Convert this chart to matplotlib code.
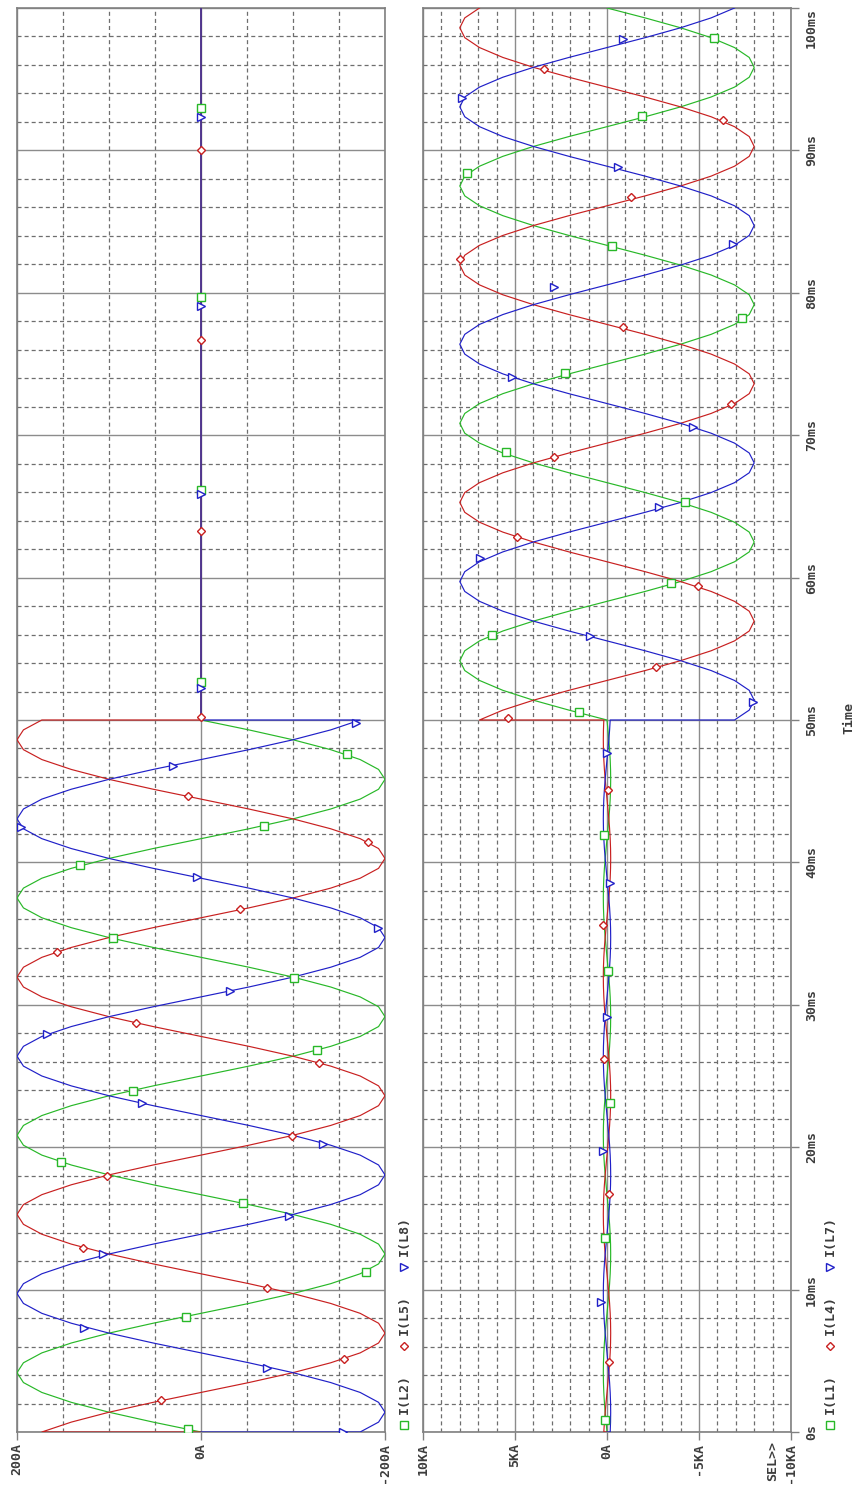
import numpy as np
import matplotlib.pyplot as plt
from matplotlib.lines import Line2D

plt.rcParams['lines.scale_dashes'] = False
plt.rcParams['font.family'] = 'DejaVu Sans Mono'

# sample grid: 15 degree steps of a 60 Hz cycle, 50 ms before and after the fault
t_pre = np.linspace(0, 50, 73)
t_post = np.linspace(50, 100, 73)

# upper plot, load currents in A (0 .. 50 ms)
i_l2_pre = [0, 52, 100, 141, 173, 193, 200, 193, 173, 141, 100, 52, 0, -52, -100, -141, -173, -193, -200, -193, -173, -141, -100, -52,
            0, 52, 100, 141, 173, 193, 200, 193, 173, 141, 100, 52, 0, -52, -100, -141, -173, -193, -200, -193, -173, -141, -100, -52,
            0, 52, 100, 141, 173, 193, 200, 193, 173, 141, 100, 52, 0, -52, -100, -141, -173, -193, -200, -193, -173, -141, -100, -52,
            0]
i_l5_pre = [173, 141, 100, 52, 0, -52, -100, -141, -173, -193, -200, -193, -173, -141, -100, -52, 0, 52, 100, 141, 173, 193, 200, 193,
            173, 141, 100, 52, 0, -52, -100, -141, -173, -193, -200, -193, -173, -141, -100, -52, 0, 52, 100, 141, 173, 193, 200, 193,
            173, 141, 100, 52, 0, -52, -100, -141, -173, -193, -200, -193, -173, -141, -100, -52, 0, 52, 100, 141, 173, 193, 200, 193,
            173]
i_l8_pre = [-173, -193, -200, -193, -173, -141, -100, -52, 0, 52, 100, 141, 173, 193, 200, 193, 173, 141, 100, 52, 0, -52, -100, -141,
            -173, -193, -200, -193, -173, -141, -100, -52, 0, 52, 100, 141, 173, 193, 200, 193, 173, 141, 100, 52, 0, -52, -100, -141,
            -173, -193, -200, -193, -173, -141, -100, -52, 0, 52, 100, 141, 173, 193, 200, 193, 173, 141, 100, 52, 0, -52, -100, -141,
            -173]

# lower plot, fault currents in kA (50 .. 100 ms)
i_l1_post = [0, 2.07, 4.0, 5.66, 6.93, 7.73, 8.0, 7.73, 6.93, 5.66, 4.0, 2.07, 0, -2.07, -4.0, -5.66, -6.93, -7.73, -8.0, -7.73, -6.93, -5.66, -4.0, -2.07,
             0, 2.07, 4.0, 5.66, 6.93, 7.73, 8.0, 7.73, 6.93, 5.66, 4.0, 2.07, 0, -2.07, -4.0, -5.66, -6.93, -7.73, -8.0, -7.73, -6.93, -5.66, -4.0, -2.07,
             0, 2.07, 4.0, 5.66, 6.93, 7.73, 8.0, 7.73, 6.93, 5.66, 4.0, 2.07, 0, -2.07, -4.0, -5.66, -6.93, -7.73, -8.0, -7.73, -6.93, -5.66, -4.0, -2.07,
             0]
i_l4_post = [6.93, 5.66, 4.0, 2.07, 0, -2.07, -4.0, -5.66, -6.93, -7.73, -8.0, -7.73, -6.93, -5.66, -4.0, -2.07, 0, 2.07, 4.0, 5.66, 6.93, 7.73, 8.0, 7.73,
             6.93, 5.66, 4.0, 2.07, 0, -2.07, -4.0, -5.66, -6.93, -7.73, -8.0, -7.73, -6.93, -5.66, -4.0, -2.07, 0, 2.07, 4.0, 5.66, 6.93, 7.73, 8.0, 7.73,
             6.93, 5.66, 4.0, 2.07, 0, -2.07, -4.0, -5.66, -6.93, -7.73, -8.0, -7.73, -6.93, -5.66, -4.0, -2.07, 0, 2.07, 4.0, 5.66, 6.93, 7.73, 8.0, 7.73,
             6.93]
i_l7_post = [-6.93, -7.73, -8.0, -7.73, -6.93, -5.66, -4.0, -2.07, 0, 2.07, 4.0, 5.66, 6.93, 7.73, 8.0, 7.73, 6.93, 5.66, 4.0, 2.07, 0, -2.07, -4.0, -5.66,
             -6.93, -7.73, -8.0, -7.73, -6.93, -5.66, -4.0, -2.07, 0, 2.07, 4.0, 5.66, 6.93, 7.73, 8.0, 7.73, 6.93, 5.66, 4.0, 2.07, 0, -2.07, -4.0, -5.66,
             -6.93, -7.73, -8.0, -7.73, -6.93, -5.66, -4.0, -2.07, 0, 2.07, 4.0, 5.66, 6.93, 7.73, 8.0, 7.73, 6.93, 5.66, 4.0, 2.07, 0, -2.07, -4.0, -5.66,
             -6.93]

# marker positions along each trace (ms, value)
mk_l2_t = [0.21, 8.08, 11.24, 16.08, 18.96, 23.95, 26.83, 31.88, 34.69, 39.82, 42.56, 47.61, 52.67, 66.15, 79.71, 92.98]
mk_l2_v = [14, 16, -179, -46, 152, 74, -126, -101, 96, 131, -68, -159, 0, 0, 0, 0]
mk_l5_t = [2.25, 5.13, 10.11, 12.92, 17.98, 20.79, 25.91, 28.72, 33.71, 36.73, 41.43, 44.66, 50.2, 63.27, 76.69, 90.03]
mk_l5_v = [43, -155, -72, 128, 102, -99, -128, 71, 156, -42, -181, 14, 0, 0, 0, 0]
mk_l8_t = [0.0, 4.49, 7.30, 12.5, 15.17, 20.22, 23.10, 27.95, 30.97, 35.39, 38.97, 42.49, 46.77, 49.79, 52.25, 65.87, 79.07, 92.35]
mk_l8_v = [-154, -72, 127, 106, -96, -133, 64, 167, -31, -192, 4, 196, 30, -168, 0, 0, 0, 0]

mk_l1_t = [0.84, 13.6, 23.1, 32.4, 41.9, 50.56, 56.0, 59.6, 65.3, 68.8, 74.37, 78.2, 83.3, 88.4, 92.4, 97.9]
mk_l1_v = [0.11, 0.11, -0.16, -0.05, 0.16, 1.53, 6.27, -3.49, -4.25, 5.5, 2.29, -7.36, -0.27, 7.63, -1.91, -5.83]
mk_l4_t = [4.9, 16.7, 26.2, 35.6, 45.08, 50.14, 53.7, 59.4, 62.85, 68.5, 72.2, 77.6, 82.4, 86.7, 92.1, 95.7]
mk_l4_v = [-0.11, -0.11, 0.16, 0.22, -0.05, 5.4, -2.67, -4.96, 4.9, 2.89, -6.76, -0.87, 8.0, -1.31, -6.32, 3.43]
mk_l7_t = [9.1, 19.73, 29.14, 38.55, 47.7, 51.26, 55.9, 61.4, 64.96, 70.6, 74.1, 80.4, 83.4, 88.8, 93.7, 97.8]
mk_l7_v = [0.33, 0.22, 0.0, -0.16, 0.0, -7.96, 0.93, 6.92, -2.83, -4.69, 5.18, 2.89, -6.87, -0.6, 7.9, -0.87]

GREEN, RED, BLUE = '#28b828', '#c82020', '#2020c8'
TXT = '#3c3c3c'
FONT = dict(family='DejaVu Sans Mono', weight='bold', size=9.5, color=TXT)
MARKS = {'s': 5.8, 'D': 4.2, '>': 5.8}

W, H = 853, 1495
fig = plt.figure(figsize=(W / 100, H / 100), dpi=100)


def box(x0, x1, y0, y1):
    return [x0 / W, 1 - y1 / H, (x1 - x0) / W, (y1 - y0) / H]


def setup(ax, lim, minor_step, ticks, labels):
    ax.set_xlim(lim, -lim)
    ax.set_ylim(0, 100)
    ax.set_xticks(ticks)
    ax.set_xticklabels(labels, rotation=90, **FONT)
    minor = [v for v in np.arange(-lim, lim + 1e-9, minor_step) if all(abs(v - m) > 1e-9 for m in ticks)]
    ax.set_xticks(minor, minor=True)
    ax.set_yticks(np.arange(0, 101, 10))
    ax.set_yticks([v for v in range(0, 101, 2) if v % 10], minor=True)
    ax.grid(which='minor', color='#6e6e6e', lw=0.9, ls=(0, (2.9, 2.2)))
    ax.grid(which='major', color='#8c8c8c', lw=1.0, ls='-')
    ax.tick_params(which='minor', length=0)
    ax.tick_params(axis='x', which='major', direction='out', length=6, width=1, color='#808080', pad=2)
    for s in ax.spines.values():
        s.set_color('#808080')
        s.set_linewidth(1.2)
    ax.set_axisbelow(True)


def trace(ax, t, v, mt, mv, color, marker):
    ax.plot(v, t, color=color, lw=0.85, zorder=3)
    ax.plot(mv, mt, ls='none', marker=marker, ms=MARKS[marker], mfc='white', mec=color, mew=1.0, zorder=4)


# upper plot: load side, opened at 50 ms
ax_a = fig.add_axes(box(17, 385, 8, 1432))
setup(ax_a, 200, 50, [200, 0, -200], ['200A', '0A', '-200A'])
ax_a.tick_params(axis='y', which='major', length=0, labelleft=False)

zeros = np.zeros(len(t_post))
t_a = np.concatenate([[0], t_pre, t_post])
trace(ax_a, t_a, np.concatenate([[0], i_l2_pre, zeros]), mk_l2_t, mk_l2_v, GREEN, 's')
trace(ax_a, t_a, np.concatenate([[0], i_l5_pre, zeros]), mk_l5_t, mk_l5_v, RED, 'D')
trace(ax_a, t_a, np.concatenate([[0], i_l8_pre, zeros]), mk_l8_t, mk_l8_v, BLUE, '>')

# lower plot: fault side, same 200 A load current before the fault
ax_b = fig.add_axes(box(423, 791, 8, 1432))
setup(ax_b, 10, 1, [10, 5, 0, -5, -10], ['10KA', '5KA', '0A', '-5KA', '-10KA'])
ax_b.yaxis.tick_right()
ax_b.tick_params(axis='y', which='major', direction='out', length=6, width=1, color='#808080', pad=4)
tlabels = ['0s'] + ['%dms' % v for v in range(10, 101, 10)]
ax_b.set_yticklabels(tlabels, rotation=90, ha='left', va='center', **FONT)
ax_b.get_yticklabels()[-1].set_va('top')

t_b = np.concatenate([[0], t_pre, t_post])
trace(ax_b, t_b, np.concatenate([[0], np.array(i_l2_pre) / 1000, i_l1_post]), mk_l1_t, mk_l1_v, GREEN, 's')
trace(ax_b, t_b, np.concatenate([[0], np.array(i_l5_pre) / 1000, i_l4_post]), mk_l4_t, mk_l4_v, RED, 'D')
trace(ax_b, t_b, np.concatenate([[0], np.array(i_l8_pre) / 1000, i_l7_post]), mk_l7_t, mk_l7_v, BLUE, '>')

fig.text(849 / W, 1 - 718 / H, 'Time', rotation=90, ha='center', va='center', **FONT)
fig.text(773 / W, 1 - 1441 / H, 'SEL>>', rotation=90, ha='center', va='top', **FONT)


def legend(x, y0, names):
    y = y0
    for name, color, marker in zip(names, [GREEN, RED, BLUE], ['s', 'D', '>']):
        fig.add_artist(Line2D([x / W], [1 - y / H], ls='none', marker=marker, ms=MARKS[marker],
                              mfc='white', mec=color, mew=1.0))
        fig.text(x / W, 1 - (y - 11) / H, name, rotation=90, ha='center', va='bottom', **FONT)
        y -= 79


legend(404, 1425, ['I(L2)', 'I(L5)', 'I(L8)'])
legend(830, 1425, ['I(L1)', 'I(L4)', 'I(L7)'])

fig.savefig('out.png', dpi=100)
